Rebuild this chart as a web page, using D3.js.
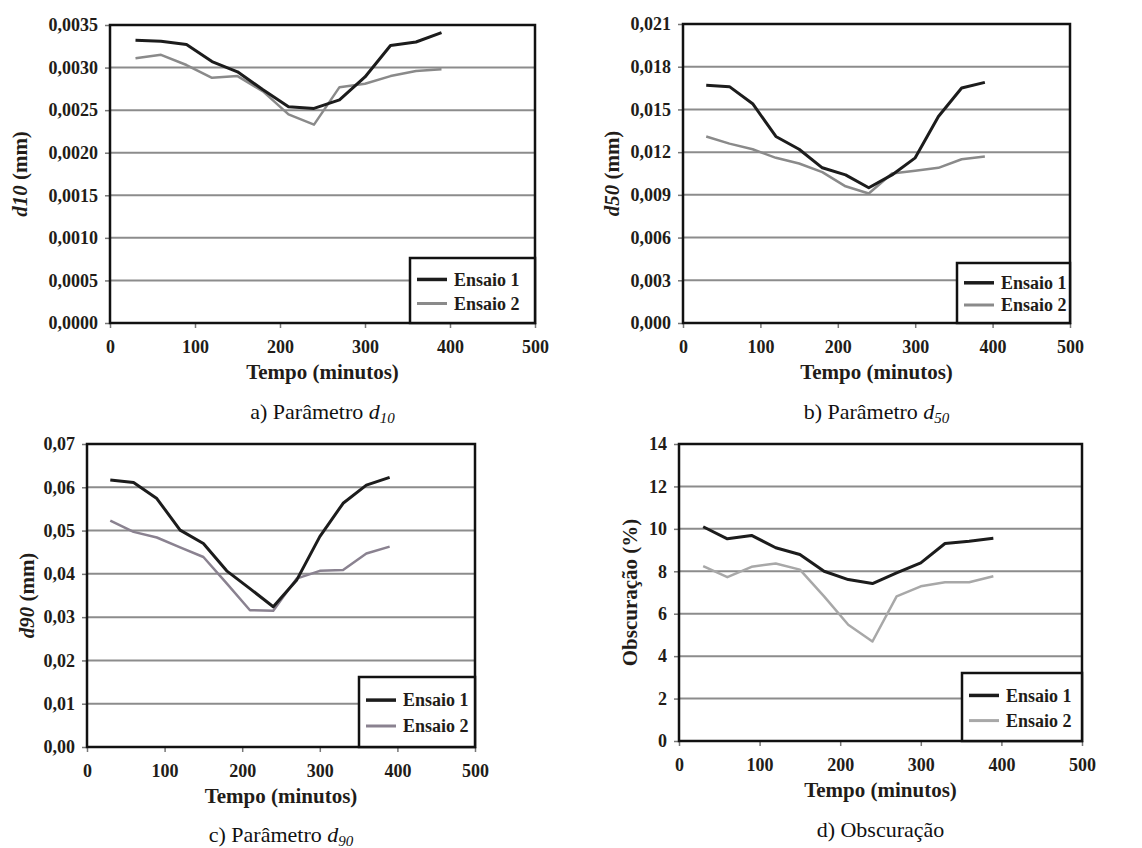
<!DOCTYPE html>
<html>
<head>
<meta charset="utf-8">
<script src="https://cdn.jsdelivr.net/npm/d3@7"></script>
<style>
  body { margin: 0; background: #fff; }
  svg { display: block; }
</style>
</head>
<body>
<div id="chart"></div>
<script>
// Data
const tempo = [30, 60, 90, 120, 150, 180, 210, 240, 270, 300, 330, 360, 390];
const xTicks = [0, 100, 200, 300, 400, 500];

const d10Ensaio1 = [0.00332, 0.00331, 0.00327, 0.00307, 0.00295, 0.00274, 0.00254, 0.00252, 0.00262, 0.00289, 0.00326, 0.00330, 0.00341];
const d10Ensaio2 = [0.00311, 0.00315, 0.00303, 0.00288, 0.00290, 0.00272, 0.00245, 0.00233, 0.00277, 0.00281, 0.00290, 0.00296, 0.00298];
const d10Ticks = [0, 0.0005, 0.0010, 0.0015, 0.0020, 0.0025, 0.0030, 0.0035];

const d50Ensaio1 = [0.0167, 0.0166, 0.0154, 0.0131, 0.0122, 0.0109, 0.0104, 0.0095, 0.0104, 0.0116, 0.0145, 0.0165, 0.0169];
const d50Ensaio2 = [0.0131, 0.0126, 0.0122, 0.0116, 0.0112, 0.0106, 0.0096, 0.0091, 0.0105, 0.0107, 0.0109, 0.0115, 0.0117];
const d50Ticks = [0, 0.003, 0.006, 0.009, 0.012, 0.015, 0.018, 0.021];

const d90Ensaio1 = [0.0617, 0.0611, 0.0574, 0.0501, 0.0470, 0.0407, 0.0366, 0.0324, 0.0385, 0.0486, 0.0563, 0.0605, 0.0623];
const d90Ensaio2 = [0.0523, 0.0497, 0.0484, 0.0461, 0.0439, 0.0378, 0.0316, 0.0315, 0.0389, 0.0407, 0.0409, 0.0447, 0.0463];
const d90Ticks = [0, 0.01, 0.02, 0.03, 0.04, 0.05, 0.06, 0.07];

const obsEnsaio1 = [10.10, 9.53, 9.69, 9.11, 8.79, 8.00, 7.61, 7.42, 7.92, 8.40, 9.31, 9.42, 9.56];
const obsEnsaio2 = [8.24, 7.72, 8.21, 8.37, 8.08, 6.82, 5.48, 4.69, 6.82, 7.29, 7.48, 7.48, 7.77];
const obsTicks = [0, 2, 4, 6, 8, 10, 12, 14];

const seriesNames = ["Ensaio 1", "Ensaio 2"];

const W = 1142, H = 848;
const serif = "'Liberation Serif', 'Times New Roman', serif";
const ink = "#221c18";

// Layout of each panel (plot area box in page pixels)
const panels = [
    {
        s1: d10Ensaio1, s2: d10Ensaio2, ticks: d10Ticks, fmt: v => d3.format(".4f")(v).replace(".", ","),
        box: {x0: 110, x1: 535, y0: 25, y1: 323},
        ylab: {x: 20, sym: "d", sub: "10"}, legend: {w: 125, h: 65},
        caption: {pre: "a) Parâmetro ", sym: "d", sub: "10"}, gray2: "#8a8a8a"
    },
    {
        s1: d50Ensaio1, s2: d50Ensaio2, ticks: d50Ticks, fmt: v => d3.format(".3f")(v).replace(".", ","),
        box: {x0: 683, x1: 1070, y0: 24, y1: 323},
        ylab: {x: 612, sym: "d", sub: "50"}, legend: {w: 113, h: 60},
        caption: {pre: "b) Parâmetro ", sym: "d", sub: "50"}, gray2: "#8a8a8a"
    },
    {
        s1: d90Ensaio1, s2: d90Ensaio2, ticks: d90Ticks, fmt: v => d3.format(".2f")(v).replace(".", ","),
        box: {x0: 87, x1: 475, y0: 444, y1: 747},
        ylab: {x: 27, sym: "d", sub: "90"}, legend: {w: 116, h: 70},
        caption: {pre: "c) Parâmetro ", sym: "d", sub: "90"}, gray2: "#8a8290"
    },
    {
        s1: obsEnsaio1, s2: obsEnsaio2, ticks: obsTicks, fmt: d3.format("d"),
        box: {x0: 679, x1: 1082, y0: 444, y1: 741},
        ylab: {x: 630, text: "Obscuração (%)"}, legend: {w: 120, h: 68},
        caption: {pre: "d) Obscuração"}, gray2: "#a8a8a8"
    }
];

const svg = d3.select("#chart")
    .append("svg")
    .attr("width", W)
    .attr("height", H);

svg.append("rect").attr("width", W).attr("height", H).attr("fill", "#fff");

panels.forEach(p => {
    const b = p.box;
    const x = d3.scaleLinear().domain([0, 500]).range([b.x0, b.x1]);
    const y = d3.scaleLinear().domain([0, d3.max(p.ticks)]).range([b.y1, b.y0]);
    const g = svg.append("g");

    // Grid lines
    g.append("g")
        .selectAll("line")
        .data(p.ticks.slice(1, -1))
        .join("line")
        .attr("x1", b.x0).attr("x2", b.x1)
        .attr("y1", d => y(d)).attr("y2", d => y(d))
        .attr("stroke", "#8c8c8c")
        .attr("stroke-width", 2);

    // Axes
    const yAxis = g.append("g")
        .attr("transform", `translate(${b.x0},0)`)
        .call(d3.axisLeft(y).tickValues(p.ticks).tickFormat(p.fmt).tickSize(5).tickPadding(7));
    const xAxis = g.append("g")
        .attr("transform", `translate(0,${b.y1})`)
        .call(d3.axisBottom(x).tickValues(xTicks).tickFormat(d3.format("d")).tickSize(5).tickPadding(12));
    [yAxis, xAxis].forEach(a => {
        a.select(".domain").remove();
        a.selectAll("line").attr("stroke", "#777").attr("stroke-width", 1.5);
        a.selectAll("text")
            .attr("fill", ink)
            .style("font-family", serif)
            .style("font-weight", "bold")
            .style("font-size", "18px");
    });

    // Series lines
    const line = d3.line().x((d, i) => x(tempo[i])).y(d => y(d));
    g.append("path").datum(p.s2)
        .attr("fill", "none").attr("stroke", p.gray2).attr("stroke-width", 2.5)
        .attr("stroke-linejoin", "round").attr("d", line);
    g.append("path").datum(p.s1)
        .attr("fill", "none").attr("stroke", "#1c1c1c").attr("stroke-width", 3)
        .attr("stroke-linejoin", "round").attr("d", line);

    // Plot frame
    g.append("rect")
        .attr("x", b.x0).attr("y", b.y0)
        .attr("width", b.x1 - b.x0).attr("height", b.y1 - b.y0)
        .attr("fill", "none").attr("stroke", "#111").attr("stroke-width", 2.5);

    // Legend
    const lg = g.append("g")
        .attr("transform", `translate(${b.x1 - p.legend.w},${b.y1 - p.legend.h})`);
    lg.append("rect")
        .attr("width", p.legend.w).attr("height", p.legend.h)
        .attr("fill", "#fff").attr("stroke", "#111").attr("stroke-width", 2.5);
    seriesNames.forEach((name, i) => {
        const ly = p.legend.h * (i === 0 ? 0.33 : 0.7);
        lg.append("line")
            .attr("x1", 7).attr("x2", 37).attr("y1", ly).attr("y2", ly)
            .attr("stroke", i === 0 ? "#1c1c1c" : p.gray2)
            .attr("stroke-width", i === 0 ? 3.5 : 3);
        lg.append("text")
            .attr("x", 44).attr("y", ly).attr("dy", "0.35em")
            .attr("fill", ink)
            .style("font-family", serif).style("font-weight", "bold").style("font-size", "18px")
            .text(name);
    });

    // X axis title
    g.append("text")
        .attr("x", (b.x0 + b.x1) / 2).attr("y", b.y1 + 49).attr("dy", "0.35em")
        .attr("text-anchor", "middle").attr("fill", ink)
        .style("font-family", serif).style("font-weight", "bold").style("font-size", "21px")
        .text("Tempo (minutos)");

    // Y axis title
    const yt = g.append("text")
        .attr("transform", `translate(${p.ylab.x},${(b.y0 + b.y1) / 2}) rotate(-90)`)
        .attr("text-anchor", "middle").attr("dy", "0.35em").attr("fill", ink)
        .style("font-family", serif).style("font-weight", "bold").style("font-size", "21px");
    if (p.ylab.text) {
        yt.text(p.ylab.text);
    } else {
        yt.append("tspan").style("font-style", "italic").text(p.ylab.sym + p.ylab.sub);
        yt.append("tspan").text(" (mm)");
    }

    // Caption
    const cap = g.append("text")
        .attr("x", (b.x0 + b.x1) / 2).attr("y", Math.min(b.y1 + 88, H - 14)).attr("dy", "0.35em")
        .attr("text-anchor", "middle").attr("fill", "#111")
        .style("font-family", serif).style("font-size", "22px");
    cap.append("tspan").text(p.caption.pre);
    if (p.caption.sym) {
        cap.append("tspan").style("font-style", "italic").text(p.caption.sym);
        cap.append("tspan").style("font-style", "italic").style("font-size", "15px")
            .attr("dy", "4").text(p.caption.sub);
    }
});
</script>
</body>
</html>
